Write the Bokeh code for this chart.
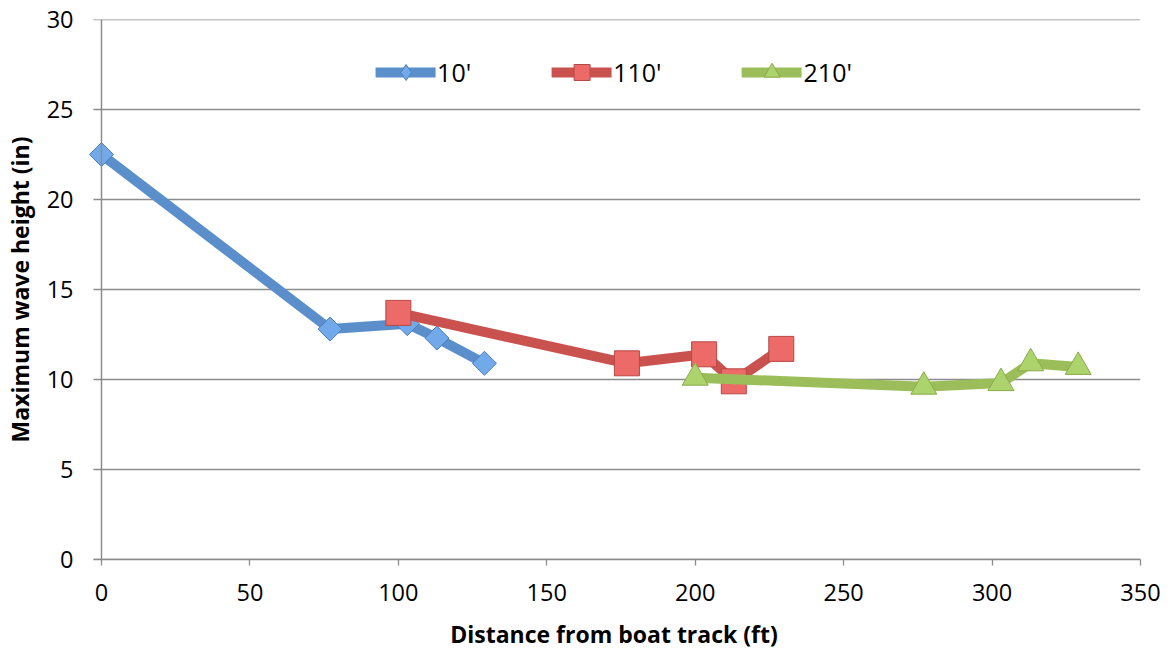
import math
from bokeh.plotting import figure
from bokeh.models import Legend, LegendItem, Range1d, FixedTicker, Span
from bokeh.embed import file_html
from bokeh.resources import INLINE

# Distance from boat track (ft) and maximum wave height (in) per gauge offset
x_10 = [0, 77, 103, 113, 129]
y_10 = [22.5, 12.8, 13.1, 12.3, 10.9]

x_110 = [100, 177, 203, 213, 229]
y_110 = [13.7, 10.9, 11.4, 9.9, 11.7]

x_210 = [200, 277, 303, 313, 329]
y_210 = [10.1, 9.6, 9.8, 10.9, 10.7]

series_names = ["10'", "110'", "210'"]
x_ticks = [0, 50, 100, 150, 200, 250, 300, 350]
y_ticks = [0, 5, 10, 15, 20, 25, 30]

FONT = "Open Sans"
GRID = "#8c8c8c"

# The frame reaches a little left of x=0 so the first marker is not cut off;
# gridlines start just left of the value axis, acting as its tick marks.
X_START = -4.71
GRID_X0 = -2.7

p = figure(width=1171, height=652, output_backend="svg", toolbar_location=None,
           x_range=Range1d(X_START, 350), y_range=Range1d(0, 30),
           min_border_left=86, min_border_right=31, min_border_top=19,
           min_border_bottom=93)
p.outline_line_color = None
p.background_fill_color = "white"
p.xgrid.grid_line_color = None
p.ygrid.grid_line_color = None

# horizontal gridlines at the y tick values
p.segment(x0=[GRID_X0] * len(y_ticks), x1=[350] * len(y_ticks),
          y0=y_ticks, y1=y_ticks, line_color=GRID, line_width=1.3)
# value axis line at x = 0
p.add_layout(Span(location=0, dimension="height", line_color=GRID, line_width=1.5))

for ax in (p.xaxis[0], p.yaxis[0]):
    ax.minor_tick_line_color = None
    ax.major_label_text_font = FONT
    ax.major_label_text_font_size = "23.5px"
    ax.major_label_text_color = "black"
    ax.axis_label_text_font = FONT
    ax.axis_label_text_font_style = "bold"
    ax.axis_label_text_font_size = "23px"
    ax.axis_label_text_color = "black"

xa = p.xaxis[0]
xa.ticker = FixedTicker(ticks=x_ticks)
xa.bounds = (GRID_X0, 350)
xa.axis_line_color = GRID
xa.axis_line_width = 1.5
xa.major_tick_line_color = GRID
xa.major_tick_line_width = 1.3
xa.major_tick_out = 6
xa.major_tick_in = 0
xa.major_label_standoff = 18
xa.axis_label = "Distance from boat track (ft)"
xa.axis_label_standoff = 14

ya = p.yaxis[0]
ya.ticker = FixedTicker(ticks=y_ticks)
ya.axis_line_color = None
ya.major_tick_line_color = None
ya.major_tick_out = 0
ya.major_tick_in = 0
ya.major_label_standoff = 14
ya.axis_label = "Maximum wave height (in)"
ya.axis_label_standoff = 8

styles = [
    (x_10, y_10, "#5a8fcb", "square", 17, math.pi / 4, "diamond", "#72a9ea", "#4f7fb8"),
    (x_110, y_110, "#c9524f", "square", 25, 0, "square", "#ec6a67", "#b84845"),
    (x_210, y_210, "#9bbd5a", "triangle", 26, 0, "triangle", "#add36c", "#8aab4c"),
]

items = []
for (xs, ys, lc, marker, size, ang, key_marker, fc, oc), name in zip(styles, series_names):
    ln = p.line(xs, ys, line_color=lc, line_width=10, line_join="round", line_cap="round")
    p.scatter(xs, ys, marker=marker, size=size, angle=ang, fill_color=fc,
              line_color=oc, line_width=1)
    # hidden twin of the markers, used only for the legend key
    key = p.scatter(xs, ys, marker=key_marker, size=size, fill_color=fc,
                    line_color=oc, line_width=1, visible=False)
    items.append(LegendItem(label=name, renderers=[ln, key]))

legend = Legend(items=items, orientation="horizontal", location="top_center",
                glyph_width=60, glyph_height=40, label_standoff=2, spacing=80,
                padding=0, margin=33, border_line_alpha=0,
                background_fill_alpha=0,
                label_text_font=FONT, label_text_font_size="25px",
                label_text_color="black")
p.add_layout(legend, "center")

open("out.html", "w").write(file_html(p, INLINE))
